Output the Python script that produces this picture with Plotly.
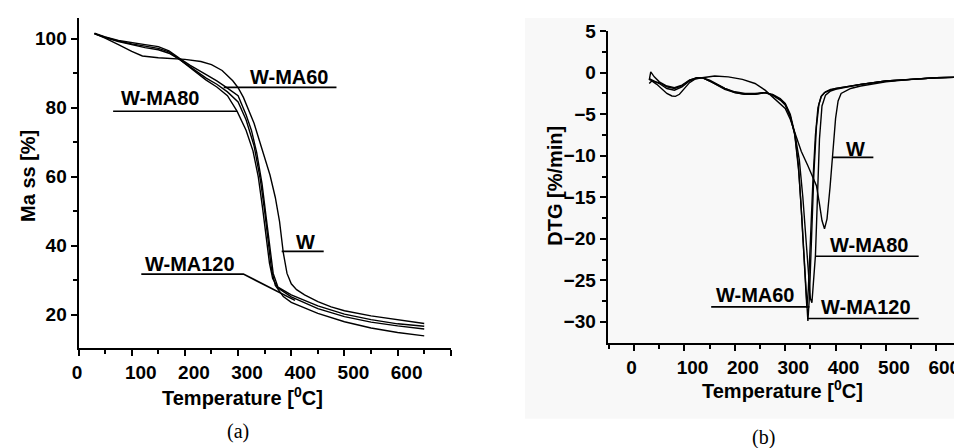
import plotly.graph_objects as go

# ---- (a) TG data: temperature [C] and mass [%] ----
t_tg_w = [30, 50, 75, 100, 120, 150, 200, 230, 250, 270, 290, 300, 310, 320, 330, 340, 350, 360, 370, 378, 385, 392, 400, 410, 425, 450, 475, 500, 550, 600, 650]
tg_w = [101.5, 100.2, 98.3, 96.3, 95.0, 94.5, 94.0, 93.4, 92.5, 90.8, 87.8, 85.8, 83.0, 79.5, 75.5, 70.5, 65.5, 60.5, 54.0, 47.0, 38.0, 32.0, 29.0, 27.3, 25.8, 23.8, 22.3, 21.2, 19.7, 18.5, 17.5]

t_tg_ma60 = [30, 50, 75, 100, 125, 150, 170, 190, 210, 240, 260, 280, 300, 315, 325, 335, 345, 353, 360, 366, 375, 400, 450, 500, 550, 600, 650]
tg_ma60 = [101.6, 100.5, 99.5, 98.8, 98.3, 97.7, 96.5, 94.3, 92.3, 89.6, 87.8, 85.7, 83.5, 78.0, 73.5, 67.0, 58.0, 48.0, 39.0, 32.0, 28.0, 25.8, 22.6, 20.2, 18.6, 17.4, 16.7]

t_tg_ma80 = [30, 50, 75, 100, 125, 150, 170, 190, 210, 240, 260, 280, 298, 315, 328, 338, 346, 353, 359, 365, 375, 400, 450, 500, 550, 600, 650]
tg_ma80 = [101.5, 100.3, 99.2, 98.2, 97.4, 96.8, 95.8, 94.0, 91.5, 88.0, 86.0, 83.5, 79.0, 73.5, 67.5, 60.0, 51.0, 43.0, 35.0, 30.5, 27.8, 25.2, 21.8, 19.5, 17.9, 16.8, 15.9]

t_tg_ma120 = [30, 50, 75, 100, 125, 150, 170, 190, 210, 240, 260, 280, 300, 315, 330, 342, 350, 357, 363, 370, 385, 400, 450, 500, 550, 600, 650]
tg_ma120 = [101.4, 100.4, 99.3, 98.5, 97.9, 97.2, 96.2, 94.1, 91.9, 88.6, 86.8, 84.6, 81.7, 76.5, 69.0, 59.0, 50.0, 41.0, 33.0, 28.5, 25.3, 23.6, 20.4, 18.0, 16.2, 14.9, 13.9]

# ---- (b) DTG data: temperature [C] and DTG [%/min] ----
t_dtg_w = [30, 35, 45, 55, 65, 75, 82, 90, 100, 110, 120, 135, 160, 187, 215, 240, 260, 280, 300, 310, 320, 332, 345, 355, 362, 368, 373, 378, 383, 389, 394, 400, 405, 411, 430, 450, 500, 550, 600, 650]
dtg_w = [-1.3, -1.0, -1.4, -2.0, -2.5, -2.8, -2.85, -2.6, -1.9, -1.2, -0.8, -0.6, -0.4, -0.5, -0.8, -1.3, -2.1, -3.2, -4.3, -5.6, -7.4, -9.5, -11.2, -12.6, -13.6, -15.8, -17.8, -18.8, -17.6, -13.8, -10.1, -5.5, -3.4, -2.5, -1.9, -1.6, -1.1, -0.8, -0.6, -0.5]

t_dtg_ma60 = [30, 33, 40, 50, 65, 80, 95, 110, 125, 135, 150, 165, 180, 200, 220, 240, 260, 275, 290, 300, 310, 319, 326, 331, 336, 340, 343, 346, 350, 355, 360, 365, 371, 378, 390, 400, 450, 500, 550, 600, 650]
dtg_ma60 = [-0.9, 0.1, -0.5, -1.1, -1.6, -1.8, -1.5, -0.9, -0.6, -0.6, -1.0, -1.5, -1.9, -2.3, -2.5, -2.5, -2.4, -2.7, -3.3, -3.9, -5.3, -7.4, -11.0, -15.5, -21.0, -25.5, -28.3, -26.0, -20.0, -13.0, -7.5, -4.2, -2.9, -2.4, -2.1, -1.9, -1.4, -1.0, -0.8, -0.6, -0.55]

t_dtg_ma80 = [30, 40, 50, 65, 80, 95, 110, 125, 135, 150, 165, 180, 200, 220, 240, 260, 275, 290, 300, 310, 319, 328, 335, 341, 346, 350, 353, 356, 360, 364, 368, 373, 380, 390, 400, 450, 500, 550, 600, 650]
dtg_ma80 = [-0.8, -1.1, -1.2, -1.7, -1.9, -1.6, -0.9, -0.6, -0.6, -1.0, -1.5, -2.0, -2.4, -2.6, -2.6, -2.4, -2.6, -3.1, -3.7, -5.0, -7.3, -10.5, -15.0, -20.0, -24.5, -27.2, -27.7, -25.5, -22.0, -15.0, -8.0, -4.0, -2.7, -2.2, -2.0, -1.4, -1.0, -0.8, -0.6, -0.55]

t_dtg_ma120 = [30, 40, 50, 65, 80, 95, 110, 125, 135, 150, 165, 180, 200, 220, 240, 260, 275, 290, 300, 310, 319, 327, 333, 338, 342, 345, 348, 352, 357, 362, 367, 372, 380, 390, 400, 450, 500, 550, 600, 650]
dtg_ma120 = [-0.7, -1.0, -1.3, -1.9, -2.1, -1.7, -1.0, -0.6, -0.6, -0.9, -1.4, -1.9, -2.4, -2.6, -2.6, -2.4, -2.7, -3.2, -3.8, -5.2, -7.5, -12.0, -17.5, -23.0, -27.5, -29.9, -27.0, -20.0, -12.0, -6.5, -3.8, -2.8, -2.3, -2.0, -1.9, -1.4, -1.0, -0.8, -0.6, -0.55]

x_ticks = [0, 100, 200, 300, 400, 500, 600]

FONT = "Liberation Sans, Arial, sans-serif"
tickfont = dict(family=FONT, size=19, color="black", weight="bold")
line = dict(color="black", width=1.4)

fig = go.Figure()
for t, v in [(t_tg_w, tg_w), (t_tg_ma60, tg_ma60), (t_tg_ma80, tg_ma80), (t_tg_ma120, tg_ma120)]:
    fig.add_trace(go.Scatter(x=t, y=v, mode="lines", line=line, xaxis="x", yaxis="y", showlegend=False))
for t, v in [(t_dtg_w, dtg_w), (t_dtg_ma60, dtg_ma60), (t_dtg_ma80, dtg_ma80), (t_dtg_ma120, dtg_ma120)]:
    fig.add_trace(go.Scatter(x=t, y=v, mode="lines", line=line, xaxis="x2", yaxis="y2", showlegend=False))

axis_common = dict(showline=True, linecolor="black", linewidth=2, ticks="outside", ticklen=6,
                   tickwidth=2, tickcolor="black", showgrid=False, zeroline=False,
                   tickfont=tickfont, fixedrange=True)
minor_common = dict(ticks="outside", ticklen=3.5, tickwidth=1.5, tickcolor="black")

# page body has an 8px margin, so the figure is sized to fit the 962x448 window
fig.update_layout(
    width=954, height=440, margin=dict(l=0, r=0, t=0, b=0),
    paper_bgcolor="white", plot_bgcolor="rgba(0,0,0,0)",
    xaxis=dict(axis_common, domain=[0.0671, 0.4602], range=[0, 700], anchor="y",
               tickvals=x_ticks + [700], ticktext=["0\u2007\u2007", "100", "200", "300", "400", "500", "600", ""],
               ticklabelshift=9,
               minor=dict(minor_common, tickvals=[50, 150, 250, 350, 450, 550, 650])),
    yaxis=dict(axis_common, domain=[0.2318, 1.0], range=[10.3, 106.0], anchor="x",
               tickvals=[20, 40, 60, 80, 100],
               minor=dict(minor_common, tickvals=[30, 50, 70, 90])),
    xaxis2=dict(axis_common, domain=[0.6258, 1.0], range=[-52.6, 651], anchor="y2",
                tickvals=x_ticks, ticktext=["0\u2007\u2007", "100", "200", "300", "400", "500", "600"],
                ticklabelshift=8,
                minor=dict(minor_common, tickvals=[-50, 50, 150, 250, 350, 450, 550, 650])),
    yaxis2=dict(axis_common, domain=[0.2432, 0.9705], range=[-32.6, 5.06], anchor="x2",
                tickvals=[5, 0, -5, -10, -15, -20, -25, -30],
                minor=dict(minor_common, tickvals=[2.5, -2.5, -7.5, -12.5, -17.5, -22.5, -27.5])),
)

# faint scan background behind panel (b)
fig.add_shape(type="rect", xref="paper", yref="paper", x0=0.5385, x1=1.0, y0=0.068, y1=1.0,
              fillcolor="#f8f8f8", line=dict(width=0), layer="below")

lab = dict(family=FONT, size=20, color="black", weight="bold")
ptr = dict(color="black", width=1.6)

# curve labels, panel (a)
labels_a = [("W-MA60", 396, 89.0), ("W-MA80", 155, 82.8), ("W", 426, 41.2), ("W-MA120", 209, 34.6)]
for txt, x, y in labels_a:
    fig.add_annotation(text=txt, x=x, y=y, xref="x", yref="y", showarrow=False, font=lab,
                       xanchor="center", yanchor="middle")
fig.add_shape(type="line", xref="x", yref="y", x0=273, x1=485, y0=85.9, y1=85.9, line=ptr)
fig.add_shape(type="line", xref="x", yref="y", x0=65, x1=298, y0=79.0, y1=79.0, line=ptr)
fig.add_shape(type="line", xref="x", yref="y", x0=382, x1=461, y0=38.4, y1=38.4, line=ptr)
fig.add_shape(type="path", xref="x", yref="y", path="M 118,31.8 L 310,31.8 L 407,24.2", line=ptr)

# curve labels, panel (b)
labels_b = [("W", 440, -9.15), ("W-MA80", 468, -20.8), ("W-MA60", 241, -26.8), ("W-MA120", 460, -28.2)]
for txt, x, y in labels_b:
    fig.add_annotation(text=txt, x=x, y=y, xref="x2", yref="y2", showarrow=False, font=lab,
                       xanchor="center", yanchor="middle")
fig.add_shape(type="line", xref="x2", yref="y2", x0=394.5, x1=475, y0=-10.2, y1=-10.2, line=ptr)
fig.add_shape(type="line", xref="x2", yref="y2", x0=360, x1=565, y0=-22.1, y1=-22.1, line=ptr)
fig.add_shape(type="line", xref="x2", yref="y2", x0=153, x1=348, y0=-28.2, y1=-28.2, line=ptr)
fig.add_shape(type="line", xref="x2", yref="y2", x0=345, x1=565, y0=-29.6, y1=-29.6, line=ptr)

# axis titles and panel captions
ttl = dict(family=FONT, size=20, color="black", weight="bold")
cap = dict(family="Liberation Serif, Times New Roman, serif", size=20, color="black")
texts = [
    ("Temperature [<sup>0</sup>C]", 0.2400, 0.1200, ttl, 0),
    ("Ma ss [%]", 0.0144, 0.6318, ttl, -90),
    ("Temperature [<sup>0</sup>C]", 0.8101, 0.1370, ttl, 0),
    ("DTG [%/min]", 0.5699, 0.6091, ttl, -90),
    ("(a)", 0.2358, 0.0386, cap, 0),
    ("(b)", 0.7900, 0.0250, cap, 0),
]
for txt, x, y, f, ang in texts:
    fig.add_annotation(text=txt, x=x, y=y, xref="paper", yref="paper", showarrow=False, font=f,
                       textangle=ang, xanchor="center", yanchor="middle")

fig.write_html("out.html")
